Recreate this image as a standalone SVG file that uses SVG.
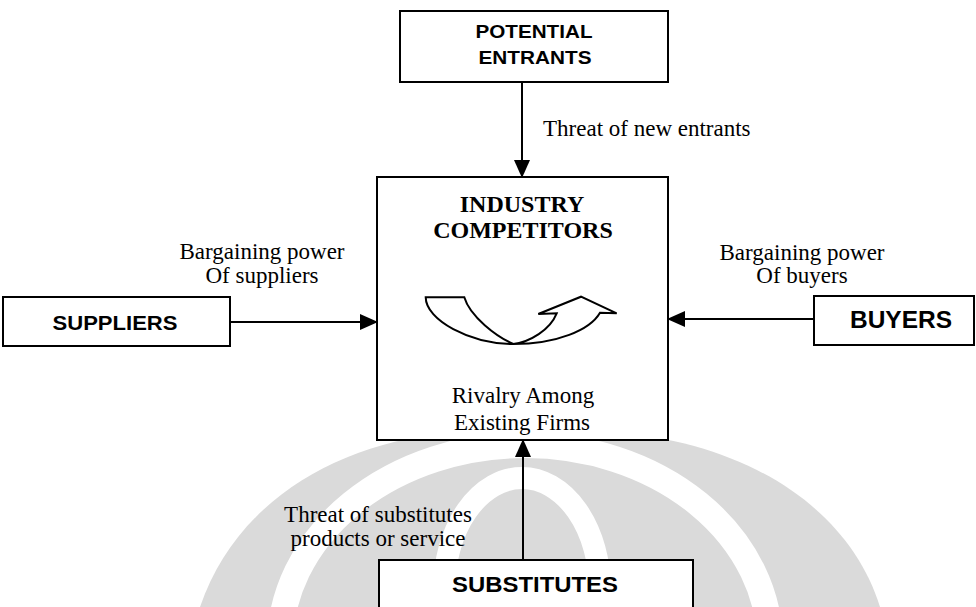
<svg xmlns="http://www.w3.org/2000/svg" width="976" height="607" viewBox="0 0 976 607">
  <style>
    .box { fill: #ffffff; stroke: #000000; stroke-width: 2; }
    .boxlbl { font-family: "Liberation Sans", Arial, sans-serif; font-weight: bold; fill: #000; text-anchor: middle; }
    .title { font-family: "Liberation Serif", "Times New Roman", serif; font-weight: bold; font-size: 24px; fill: #000; text-anchor: middle; }
    .lbl { font-family: "Liberation Serif", "Times New Roman", serif; font-size: 23px; fill: #000; text-anchor: middle; }
    .conn { stroke: #000; stroke-width: 2; fill: none; marker-end: url(#arr); }
    .wm { fill: #dadada; }
  </style>
  <defs>
    <marker id="arr" markerUnits="userSpaceOnUse" markerWidth="18" markerHeight="16" viewBox="0 0 18 16" refX="17" refY="8" orient="auto">
      <path d="M0,0 L18,8 L0,16 Z" fill="#000"/>
    </marker>
  </defs>

  <g id="watermark">
    <path class="wm" d="M200,607 C235,505 330,445 450,432 L610,432 C750,442 850,510 880,607 Z"/>
    <ellipse cx="525" cy="645" rx="245" ry="200" fill="none" stroke="#ffffff" stroke-width="26"/>
    <ellipse cx="522" cy="590" rx="78" ry="112" fill="none" stroke="#ffffff" stroke-width="22"/>
  </g>

  <g id="connectors">
    <line class="conn" x1="522" y1="82" x2="522" y2="177"/>
    <line class="conn" x1="230" y1="322" x2="377" y2="322"/>
    <line class="conn" x1="814" y1="319" x2="668" y2="319"/>
    <line class="conn" x1="523" y1="560" x2="523" y2="440"/>
    <text class="lbl" x="543" y="136" style="text-anchor:start">Threat of new entrants</text>
    <text class="lbl" x="262" y="259">Bargaining power</text>
    <text class="lbl" x="262" y="283">Of suppliers</text>
    <text class="lbl" x="802" y="260">Bargaining power</text>
    <text class="lbl" x="802" y="283">Of buyers</text>
    <text class="lbl" x="378" y="522">Threat of substitutes</text>
    <text class="lbl" x="378" y="546">products or service</text>
  </g>

  <g id="potential-entrants">
    <rect class="box" x="400" y="11" width="268" height="71"/>
    <text class="boxlbl" x="534" y="38" font-size="19" textLength="117" lengthAdjust="spacingAndGlyphs">POTENTIAL</text>
    <text class="boxlbl" x="535" y="64" font-size="19" textLength="113" lengthAdjust="spacingAndGlyphs">ENTRANTS</text>
  </g>

  <g id="industry-competitors">
    <rect class="box" x="377" y="177" width="291" height="263"/>
    <text class="title" x="522" y="212">INDUSTRY</text>
    <text class="title" x="523" y="238">COMPETITORS</text>
    <path d="M425.7,297.3 L464.3,297.3 C470,316.7 496.7,336.7 513.3,344 C530,341.7 550,330 556.7,313.3 L538.3,314 L581,296.7 L616.7,313.3 L600,312.7 C590,330 556.7,344 513.3,344 C470,344 425.7,320 425.7,297.3 Z" fill="#fff" stroke="#000" stroke-width="2" stroke-linejoin="miter"/>
    <text class="lbl" x="523" y="403">Rivalry Among</text>
    <text class="lbl" x="522" y="430">Existing Firms</text>
  </g>

  <g id="suppliers">
    <rect class="box" x="3" y="297" width="227" height="49"/>
    <text class="boxlbl" x="115" y="330" font-size="21" textLength="125" lengthAdjust="spacingAndGlyphs">SUPPLIERS</text>
  </g>

  <g id="buyers">
    <rect class="box" x="814" y="296" width="160" height="49"/>
    <text class="boxlbl" x="901" y="328" font-size="23" textLength="102" lengthAdjust="spacingAndGlyphs">BUYERS</text>
  </g>

  <g id="substitutes">
    <rect class="box" x="379" y="560" width="314" height="60"/>
    <text class="boxlbl" x="535" y="592" font-size="22" textLength="166" lengthAdjust="spacingAndGlyphs">SUBSTITUTES</text>
  </g>
</svg>
